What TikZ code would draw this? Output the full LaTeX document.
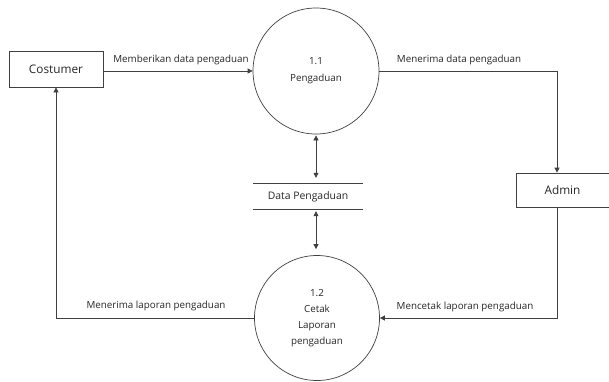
\documentclass[tikz,border=0pt]{standalone}
\usepackage{fontspec}
\setmainfont{Open Sans}
\usetikzlibrary{arrows.meta}
\begin{document}
\begin{tikzpicture}[x=1pt,y=-1pt,
  every node/.style={font=\fontsize{9.8}{16}\selectfont, text=black!85},
  line/.style={draw=black!75, line width=0.7pt},
  box/.style={line, rectangle, minimum height=36pt, inner sep=0pt, font=\fontsize{11.8}{14}\selectfont},
  proc/.style={line, circle, inner sep=0pt, align=center},
  arr/.style={line, -{Triangle[length=5pt,width=5pt]}},
  darr/.style={line, {Triangle[length=5pt,width=5pt]}-{Triangle[length=5pt,width=5pt]}},
  lbl/.style={inner sep=1pt}]
\useasboundingbox (0,0) rectangle (609,381);

\node[box, minimum width=94pt] (cost) at (56,69) {Costumer};
\node[box, minimum width=93pt, minimum height=34pt] (admin) at (562.5,190) {Admin};
\node[proc, minimum size=126pt, font=\fontsize{9.8}{17}\selectfont] (p11) at (316,71) {1.1\\Pengaduan};
\node[proc, minimum size=125pt] (p12) at (317,318) {1.2\\Cetak\\Laporan\\pengaduan};
\node[minimum width=110pt, minimum height=25pt, inner sep=0pt, font=\fontsize{10.4}{12}\selectfont] (ds) at (308,196.5) {Data Pengaduan};
\draw[line] (ds.north west) -- (ds.north east);
\draw[line] (ds.south west) -- (ds.south east);

\draw[arr] (cost.east |- p11.west) -- (p11.west);
\draw[arr] (p11.east) -| ([xshift=-5.5pt]admin.north);
\draw[arr] ([xshift=-5.5pt]admin.south) |- (p12.east);
\draw[arr] (p12.west) -| (cost.south);
\draw[darr, shorten >=6pt, shorten <=1pt] (p11.south) -- (p11.south |- ds.north);
\draw[darr, shorten >=6pt, shorten <=2pt] (p11.south |- ds.south) -- (p11.south |- p12.north);

\node[lbl] (l1) at (181,60) {Memberikan data pengaduan};
\node[lbl] (l2) at (459,60) {Menerima data pengaduan};
\node[lbl] (l3) at (156,306) {Menerima laporan pengaduan};
\node[lbl] (l4) at (465,307) {Mencetak laporan pengaduan};
\end{tikzpicture}
\end{document}
